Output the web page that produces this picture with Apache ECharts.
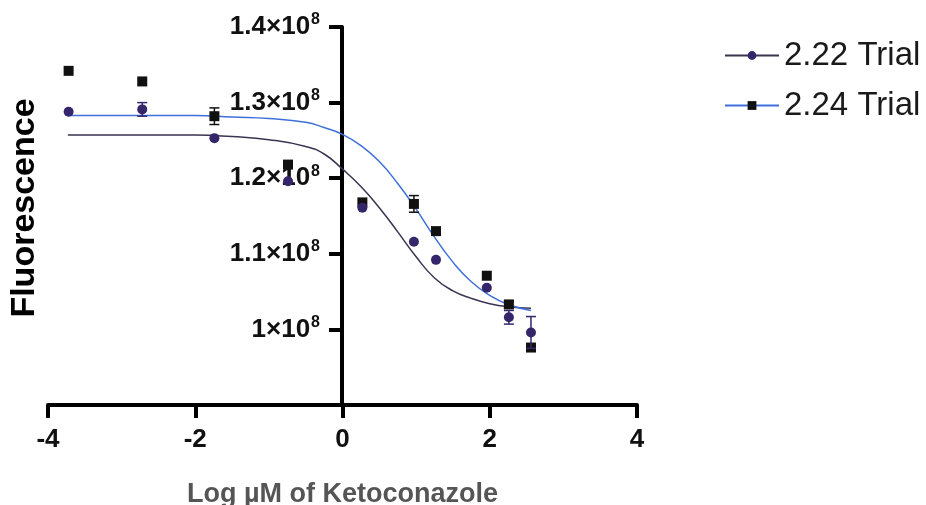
<!DOCTYPE html>
<html>
<head>
<meta charset="utf-8">
<title>Fluorescence vs Log µM of Ketoconazole</title>
<script src="https://cdn.jsdelivr.net/npm/echarts@6/dist/echarts.min.js"></script>
<style>
  html, body { margin: 0; padding: 0; background: #fff; }
  #chart { width: 926px; height: 505px; }
</style>
</head>
<body>
<div id="chart"></div>
<script>
// log concentration of each dose
var doseLog = [-3.72, -2.72, -1.74, -0.74, 0.27, 0.97, 1.27, 1.96, 2.26, 2.56];

// measured fluorescence (mean) and error per dose
var trial222 = [1.288e8, 1.291e8, 1.253e8, 1.196e8, 1.161e8, 1.116e8, 1.092e8, 1.055e8, 1.016e8, 0.996e8];
var err222 = [0, 0.009e8, 0, 0, 0, 0, 0, 0, 0.009e8, 0.021e8];
var trial224 = [1.342e8, 1.328e8, 1.282e8, 1.218e8, 1.168e8, 1.166e8, 1.130e8, 1.071e8, 1.033e8, 0.976e8];
var err224 = [0, 0, 0.011e8, 0, 0, 0.011e8, 0, 0, 0.005e8, 0];

// fitted curves
var fitX = [-3.73, -3.0, -2.5, -2.0, -1.5, -1.0, -0.5, -0.25, 0, 0.25, 0.5, 0.75, 1.0, 1.25, 1.5, 1.75, 2.0, 2.25, 2.56];
var fit222 = [1.257e8, 1.257e8, 1.257e8, 1.257e8, 1.255e8, 1.251e8, 1.242e8, 1.232e8, 1.212e8, 1.189e8, 1.161e8,
    1.129e8, 1.096e8, 1.068e8, 1.051e8, 1.041e8, 1.034e8, 1.030e8, 1.028e8];
var fit224 = [1.283e8, 1.283e8, 1.283e8, 1.283e8, 1.281e8, 1.279e8, 1.274e8, 1.267e8, 1.258e8, 1.243e8, 1.222e8,
    1.193e8, 1.159e8, 1.122e8, 1.089e8, 1.063e8, 1.045e8, 1.033e8, 1.025e8];

var xTicks = [-4, -2, 0, 2, 4];
var legendNames = ['2.22 Trial', '2.24 Trial'];

var FONT = 'Liberation Sans';
var purple = '#35266b';
var darkLine = '#3b3352';
var blueLine = '#3f70d9';
var black = '#111111';

function zipPts(xs, ys) {
    return xs.map(function (x, i) { return [x, ys[i]]; });
}

function errPts(xs, ys, es) {
    var out = [];
    xs.forEach(function (x, i) {
        if (es[i] > 0) {
            out.push([x, ys[i] - es[i], ys[i] + es[i]]);
        }
    });
    return out;
}

// vertical error bar with caps, drawn through the axes
function errorBar(color) {
    return function (params, api) {
        var lo = api.coord([api.value(0), api.value(1)]);
        var hi = api.coord([api.value(0), api.value(2)]);
        var cap = 5;
        var st = { stroke: color, lineWidth: 1.5 };
        return {
            type: 'group',
            children: [
                { type: 'line', shape: { x1: lo[0], y1: lo[1], x2: hi[0], y2: hi[1] }, style: st },
                { type: 'line', shape: { x1: lo[0] - cap, y1: lo[1], x2: lo[0] + cap, y2: lo[1] }, style: st },
                { type: 'line', shape: { x1: hi[0] - cap, y1: hi[1], x2: hi[0] + cap, y2: hi[1] }, style: st }
            ]
        };
    };
}

var chart = echarts.init(document.getElementById('chart'));

var option = {
    animation: false,
    backgroundColor: '#ffffff',
    textStyle: { fontFamily: FONT },
    grid: { left: 48, right: 289, top: 27, bottom: 100, containLabel: false, outerBoundsMode: 'none' },
    legend: {
        data: legendNames,
        orient: 'vertical',
        left: 724,
        top: 39,
        padding: 0,
        itemWidth: 54,
        itemHeight: 11,
        itemGap: 17,
        textStyle: { fontSize: 33, color: '#1a1a1a', fontFamily: FONT }
    },
    xAxis: {
        type: 'value',
        min: -4,
        max: 4,
        interval: 2,
        name: 'Log µM of Ketoconazole',
        nameLocation: 'middle',
        nameGap: 76,
        nameTextStyle: { fontSize: 27, fontWeight: 'bold', color: '#555555', fontFamily: FONT },
        axisLine: { onZero: false, lineStyle: { color: '#000', width: 4 } },
        axisTick: { show: true, length: 13, lineStyle: { color: '#000', width: 4 } },
        axisLabel: {
            fontSize: 26, fontWeight: 'bold', color: '#111', margin: 22, fontFamily: FONT,
            formatter: function (v) { return xTicks.indexOf(v) >= 0 ? String(v) : ''; }
        },
        splitLine: { show: false }
    },
    yAxis: {
        type: 'value',
        position: 'left',
        // shift the axis inward so it crosses the x axis at 0
        offset: -294,
        min: 0.9e8,
        max: 1.4e8,
        interval: 0.1e8,
        name: 'Fluorescence',
        nameLocation: 'middle',
        nameGap: 300,
        nameTextStyle: { fontSize: 34, fontWeight: 'bold', color: '#000', fontFamily: FONT, padding: [0, 0, 0, 16] },
        axisLine: { onZero: false, lineStyle: { color: '#000', width: 4 } },
        axisTick: { show: true, length: 13, lineStyle: { color: '#000', width: 4 } },
        axisLabel: {
            margin: 22,
            formatter: function (v) {
                if (v < 0.95e8) { return ''; }
                var m = +(v / 1e8).toFixed(1);
                return '{a|' + m + '×10}{s|8}';
            },
            rich: {
                a: { fontSize: 26, fontWeight: 'bold', color: '#111', fontFamily: FONT, lineHeight: 30 },
                s: { fontSize: 16, fontWeight: 'bold', color: '#111', fontFamily: FONT, lineHeight: 30, verticalAlign: 'top', padding: [0, 0, 14, 1] }
            }
        },
        splitLine: { show: false }
    },
    series: [
        {
            name: '2.22 Trial',
            type: 'line',
            data: zipPts(fitX, fit222),
            smooth: 0.5,
            showSymbol: false,
            symbol: 'circle',
            itemStyle: { color: purple },
            lineStyle: { color: darkLine, width: 1.5 },
            z: 2
        },
        {
            name: '2.24 Trial',
            type: 'line',
            data: zipPts(fitX, fit224),
            smooth: 0.5,
            showSymbol: false,
            symbol: 'rect',
            itemStyle: { color: black },
            lineStyle: { color: blueLine, width: 1.5 },
            z: 2
        },
        {
            name: '2.24 Trial',
            type: 'scatter',
            data: zipPts(doseLog, trial224),
            symbol: 'rect',
            symbolSize: 10,
            itemStyle: { color: black, opacity: 1 },
            z: 3
        },
        {
            name: '2.22 Trial',
            type: 'scatter',
            data: zipPts(doseLog, trial222),
            symbol: 'circle',
            symbolSize: 10,
            itemStyle: { color: purple, opacity: 1 },
            z: 4
        },
        {
            type: 'custom',
            data: errPts(doseLog, trial224, err224),
            renderItem: errorBar(black),
            z: 5
        },
        {
            type: 'custom',
            data: errPts(doseLog, trial222, err222),
            renderItem: errorBar(purple),
            z: 5
        }
    ]
};

chart.setOption(option);
</script>
</body>
</html>
